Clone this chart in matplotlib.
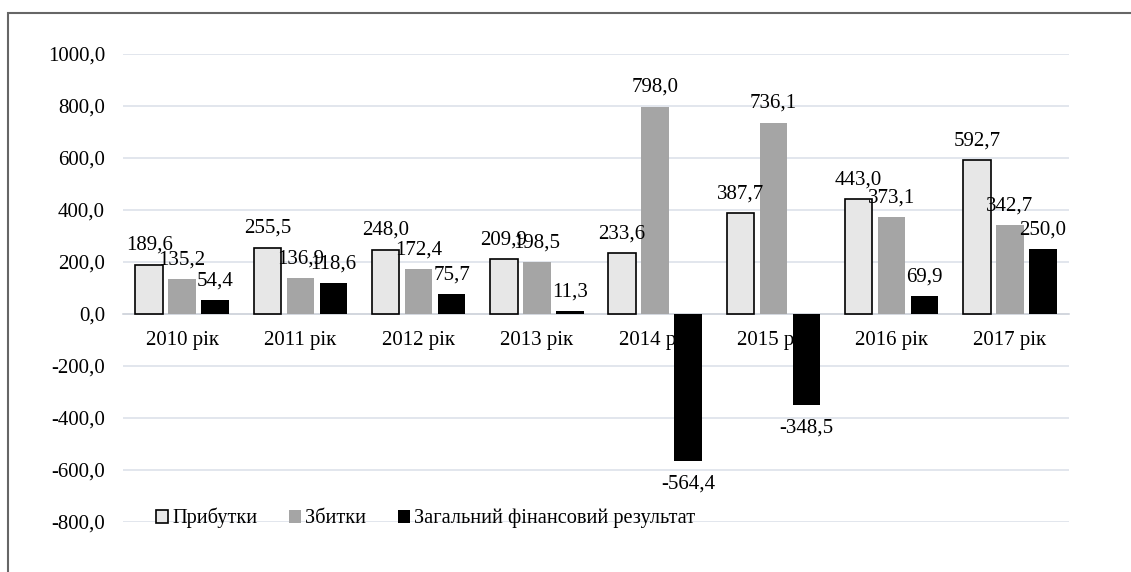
import matplotlib
matplotlib.use("Agg")
import matplotlib.pyplot as plt
import numpy as np
from matplotlib.patches import Rectangle

YEARS = ["2010 рік", "2011 рік", "2012 рік", "2013 рік", "2014 рік", "2015 рік", "2016 рік", "2017 рік"]
PROFIT = [189.6, 255.5, 248.0, 209.9, 233.6, 387.7, 443.0, 592.7]
LOSS = [135.2, 136.9, 172.4, 198.5, 798.0, 736.1, 373.1, 342.7]
RESULT = [54.4, 118.6, 75.7, 11.3, -564.4, -348.5, 69.9, 250.0]
SERIES = ["Прибутки", "Збитки", "Загальний фінансовий результат"]
YTICKS = [-800, -600, -400, -200, 0, 200, 400, 600, 800, 1000]

plt.rcParams["font.family"] = ["Liberation Serif", "DejaVu Serif"]
FS = 15


def fmt(v):
    return f"{v:.1f}".replace(".", ",")


def main(out="out.png"):
    fig = plt.figure(figsize=(11.31, 5.72), dpi=100)
    ax = fig.add_axes([123 / 1131, 1 - 522 / 572, (1069 - 123) / 1131, (522 - 54) / 572])
    # move spine first: set_position resets tick properties
    ax.spines["bottom"].set_position(("data", 0))

    x = np.arange(len(YEARS))
    w = 0.232
    step = 0.279
    styles = [dict(color="#e7e7e7", edgecolor="black", linewidth=1.2),
              dict(color="#a5a5a5", edgecolor="none"),
              dict(color="black", edgecolor="none")]
    for k, (vals, st, name) in enumerate(zip([PROFIT, LOSS, RESULT], styles, SERIES)):
        xs = x + (k - 1) * step
        ax.bar(xs, vals, w, label=name, zorder=3, **st)
        for xi, v in zip(xs, vals):
            if v >= 0:
                ax.annotate(fmt(v), (xi, v), xytext=(0, 7), textcoords="offset points",
                            ha="center", va="bottom", fontsize=FS, zorder=4)
            else:
                ax.annotate(fmt(v), (xi, v), xytext=(0, -10), textcoords="offset points",
                            ha="center", va="top", fontsize=FS, zorder=4)

    ax.set_xlim(-0.5, len(YEARS) - 0.5)
    ax.set_ylim(-800, 1000)
    ax.set_yticks(YTICKS)
    ax.set_yticklabels([fmt(t) for t in YTICKS], fontsize=FS)
    ax.set_xticks(x)
    ax.set_xticklabels(YEARS, fontsize=FS)
    ax.tick_params(axis="both", length=0)
    ax.tick_params(axis="y", pad=13)
    ax.tick_params(axis="x", pad=12)
    ax.set_axisbelow(True)
    ax.grid(axis="y", color="#dde2ea", lw=1.2)
    for s in ["top", "right", "left"]:
        ax.spines[s].set_visible(False)
    ax.spines["bottom"].set_color("#d0d5dc")
    ax.spines["bottom"].set_linewidth(1.2)

    ax.legend(loc="center left", bbox_to_anchor=(156 / 1131, 1 - 518 / 572),
              bbox_transform=fig.transFigure, ncol=3, frameon=False, fontsize=14.7,
              handlelength=0.6, handleheight=0.6, handletextpad=0.2, columnspacing=1.55,
              borderpad=0, borderaxespad=0)

    fig.patches.append(Rectangle((8 / 1131, -0.1), 1.2, 1.1 - 13 / 572, transform=fig.transFigure,
                                 fill=False, edgecolor="#666666", linewidth=1.5))
    fig.savefig(out, dpi=100)


if __name__ == "__main__":
    main()
